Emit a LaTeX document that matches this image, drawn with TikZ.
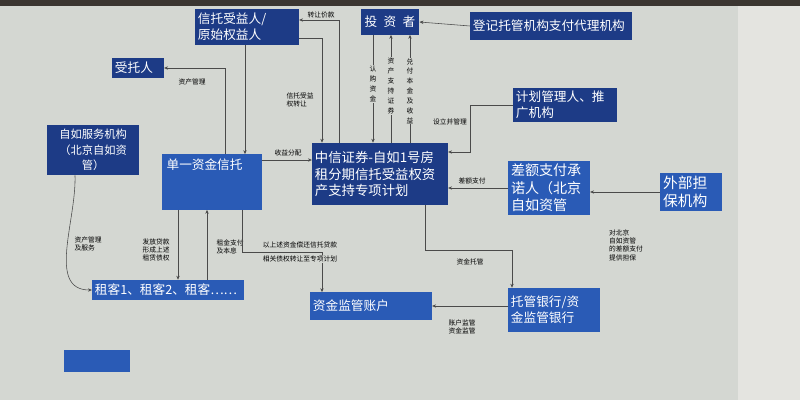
\documentclass[tikz,border=0pt]{standalone}
\usepackage{fontspec}
\newfontfamily\cjk{Noto Sans CJK SC}
\usetikzlibrary{arrows.meta}
\definecolor{bgpaper}{HTML}{D4D7D2}
\definecolor{bartop}{HTML}{3B3631}
\definecolor{sidepanel}{HTML}{E4E4E0}
\definecolor{boxnavy}{HTML}{1D3B86}
\definecolor{boxblue}{HTML}{2A5BB6}
\definecolor{linegray}{HTML}{4A4A4A}

\begin{document}
\begin{tikzpicture}[x=0.025cm,y=-0.025cm,
    box/.style={fill=boxnavy,text=white,font=\cjk\fontsize{9}{11.5}\selectfont,inner sep=2pt,align=left},
    boxb/.style={box,fill=boxblue},
    flow/.style={draw=linegray,line width=0.4pt,-{Stealth[length=2.8pt,width=2.4pt]}},
    note/.style={font=\cjk\fontsize{4.8}{5.9}\selectfont,text=black,inner sep=0.6pt,align=left},
    vnote/.style={note,fill=bgpaper,align=center,font=\cjk\fontsize{4.8}{7}\selectfont}]

      % Screen background
      \useasboundingbox (0,0) rectangle (800,400);
      \fill[bgpaper] (0,0) rectangle (800,400);
      \fill[bartop] (0,0) rectangle (800,6);
      \fill[sidepanel] (738,6) rectangle (800,400);

      % Parties, top row
      \node[box,text width=2.45cm,minimum height=0.88cm] (benef) at (247,27) {信托受益人/\\原始权益人};
      \node[box,text width=1.15cm,minimum height=0.5cm] (trustee) at (138,68) {受托人};
      \node[box,text width=1.32cm,minimum height=0.63cm,align=center] (investor) at (390,22) {投\enspace 资\enspace 者};
      \node[box,text width=3.9cm,minimum height=0.7cm] (registrar) at (551,26) {登记托管机构支付代理机构};
      \node[box,text width=2.45cm,minimum height=0.85cm] (manager) at (565,105) {计划管理人、推\\广机构};

      % Parties, middle row
      \node[box,font=\cjk\fontsize{8}{11}\selectfont,text width=2.15cm,minimum height=1.25cm,align=center] (service) at (93,150) {自如服务机构\\（北京自如资\\管）};
      \node[boxb,inner sep=0pt] (trust) at (212,182) {\parbox[t][1.38cm][t]{2.48cm}{\vspace{3pt}\hspace{3pt}单一资金信托}};
      \node[box,font=\cjk\fontsize{9.5}{12}\selectfont,text width=3.25cm,minimum height=1.55cm] (plan) at (380,174) {中信证券-自如1号房\\租分期信托受益权资\\产支持专项计划};
      \node[boxb,font=\cjk\fontsize{10}{12.5}\selectfont,text width=1.9cm,minimum height=1.25cm] (diff) at (549,188) {差额支付承\\诺人（北京\\自如资管};
      \node[boxb,font=\cjk\fontsize{10.5}{13}\selectfont,text width=1.4cm,minimum height=0.88cm] (external) at (691,192) {外部担\\保机构};

      % Parties, bottom row
      \node[boxb,text width=3.65cm,minimum height=0.5cm] (tenants) at (168,290) {租客1、租客2、租客……};
      \node[boxb,text width=2.9cm,minimum height=0.68cm] (account) at (371,306) {资金监管账户};
      \node[boxb,text width=2.15cm,minimum height=1.1cm] (bank) at (554,310) {托管银行/资\\金监管银行};
      \node[boxb,minimum width=1.63cm,minimum height=0.55cm] (spare) at (97,361) {};

      % Helper coordinates for the elbows
      \coordinate (kPay) at (339,20);
      \coordinate (kXfer) at (322,38);
      \coordinate (kSub) at (373,0);
      \coordinate (kAbs) at (391,0);
      \coordinate (kRet) at (410,0);
      \coordinate (kMgmt) at (225,0);
      \coordinate (kTrust) at (245,0);
      \coordinate (kSet) at (470,152);
      \coordinate (kGain) at (0,160);
      \coordinate (kServ) at (75,0);
      \coordinate (kLoan) at (178,0);
      \coordinate (kRent) at (207,0);
      \coordinate (kFund) at (242,252);
      \coordinate (kRepay) at (322,252);
      \coordinate (kCust) at (425,250);
      \coordinate (kBank) at (512,250);

      % Top connectors
      \draw[flow] (registrar.west) -- (investor.east);
      \draw[flow] (plan.north -| kPay) |- (benef.east |- kPay);
      \node[note] (nPay) at (321,15) {转让价款};
      \draw[flow] (benef.east |- kXfer) -| (plan.north -| kXfer);
      \node[note] (nXfer) at (300,100) {信托受益\\权转让};
      \draw[flow] (investor.south -| kSub) -- (plan.north -| kSub);
      \draw[flow] (plan.north -| kAbs) -- (investor.south -| kAbs);
      \draw[flow] (plan.north -| kRet) -- (investor.south -| kRet);
      \node[vnote] (nSub) at (373,84) {认\\购\\资\\金};
      \node[vnote] (nAbs) at (391,86) {资\\产\\支\\持\\证\\券};
      \node[vnote] (nRet) at (410,91) {兑\\付\\本\\金\\及\\收\\益};
      \draw[flow] (trust.north -| kMgmt) |- (trustee.east);
      \node[note] (nMgmt) at (192,82) {资产管理};
      \draw[flow] (benef.south -| kTrust) -- (trust.north -| kTrust);

      % Right side connectors
      \draw[flow] (manager.west) -| (kSet) -- (plan.east |- kSet);
      \node[note] (nSet) at (450,122) {设立并管理};
      \draw[flow] (diff.west) -- (plan.east |- diff.west);
      \node[note] (nDiff) at (472,181) {差额支付};
      \draw[flow] (external.west) -- (diff.east |- external.west);
      \node[note] (nGuar) at (626,245) {对北京\\自如资管\\的差额支付\\提供担保};

      % Left side connectors
      \draw[flow] (trust.east |- kGain) -- (plan.west |- kGain);
      \node[note] (nGain) at (288,153) {收益分配};
      \draw[flow] (service.south -| kServ) to[out=-88,in=180] (tenants.west);
      \node[note] (nServ) at (88,244) {资产管理\\及服务};
      \draw[flow] (trust.south -| kLoan) -- (tenants.north -| kLoan);
      \node[note] (nLoan) at (156,250) {发放贷款\\形成上述\\租赁债权};
      \draw[flow] (tenants.north -| kRent) -- (trust.south -| kRent);
      \node[note] (nRent) at (230,247) {租金支付\\及本息};

      % Bottom connectors
      \draw[flow] (trust.south -| kFund) |- (kRepay) -- (account.north -| kRepay);
      \node[note,fill=bgpaper] (nFund) at (300,245) {以上述资金偿还信托贷款};
      \node[note,fill=bgpaper] (nRepay) at (300,259) {相关债权转让至专项计划};
      \draw[flow] (plan.south -| kCust) |- (kBank) -- (bank.north -| kBank);
      \node[note] (nCust) at (470,262) {资金托管};
      \draw[flow] (bank.west |- account.east) -- (account.east);
      \node[note] (nSup) at (462,327) {账户监管\\资金监管};
\end{tikzpicture}
\end{document}
